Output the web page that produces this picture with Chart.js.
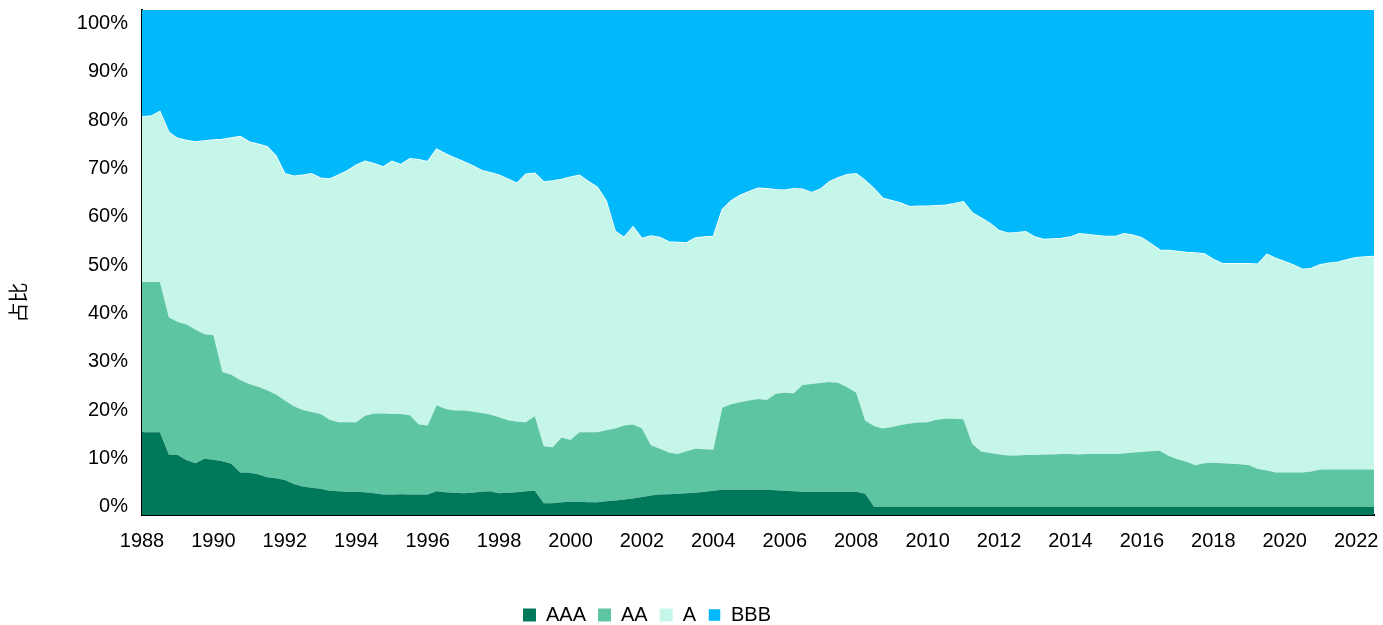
<!DOCTYPE html>
<html lang="zh">
<head>
<meta charset="utf-8">
<title>评级占比</title>
<script src="https://cdn.jsdelivr.net/npm/chart.js@4.4.1/dist/chart.umd.min.js"></script>
<style>
  html, body { margin: 0; padding: 0; background: #fff; overflow: hidden; }
  .wrap { width: 1383px; height: 635px; }
</style>
</head>
<body>
<div class="wrap"><canvas id="chart"></canvas></div>
<script>
// 季度时间点：1988 年一季度起
const dates = Array.from({ length: 139 }, (_, i) => 1988 + i / 4);

const yearTicks = [1988, 1990, 1992, 1994, 1996, 1998, 2000, 2002, 2004, 2006,
    2008, 2010, 2012, 2014, 2016, 2018, 2020, 2022];
const pctTicks = [0, 10, 20, 30, 40, 50, 60, 70, 80, 90, 100];

const ratings = ['AAA', 'AA', 'A', 'BBB'];

// 各评级占比（%）
const aaa = [
    15.4, 15.4, 15.4,
    10.8, 10.7, 9.6, 9.0, 9.9, 9.7, 9.4, 8.9,
    7.1, 7.0, 6.7, 6.1, 5.9, 5.5, 4.7, 4.2, 3.9, 3.7,
    3.3, 3.2, 3.1, 3.1, 3.0, 2.8, 2.5, 2.5, 2.6, 2.5,
    2.5, 2.5, 3.2, 3.0, 2.9, 2.8, 2.9, 3.1, 3.2, 2.8,
    2.9, 3.0, 3.2, 3.3, 0.7, 0.7, 0.9, 1.0, 1.0, 0.9,
    0.9, 1.1, 1.3, 1.5, 1.7, 2.0, 2.3, 2.5, 2.6, 2.7,
    2.8, 2.9, 3.1, 3.3, 3.5, 3.5, 3.5, 3.5, 3.5, 3.5,
    3.4, 3.3, 3.2, 3.1, 3.1, 3.1, 3.1, 3.1, 3.1, 3.1,
    2.7,
    0, 0, 0, 0, 0, 0, 0, 0, 0,
    0, 0, 0, 0, 0, 0, 0, 0, 0, 0,
    0, 0, 0, 0, 0, 0, 0, 0, 0, 0,
    0, 0, 0, 0, 0, 0, 0, 0, 0, 0,
    0, 0, 0, 0, 0, 0, 0, 0, 0, 0,
    0, 0, 0, 0, 0, 0, 0, 0
];
const aa = [
    31.1, 31.1, 31.1,
    28.4, 27.5, 28.1, 27.6, 25.8, 25.8, 18.5, 18.4,
    19.1, 18.4, 18.1, 18.0, 17.3, 16.5, 16.1, 15.8, 15.7, 15.5,
    14.7, 14.3, 14.4, 14.4, 15.8, 16.5, 16.8, 16.7, 16.6, 16.4,
    14.5, 14.3, 17.8, 17.2, 17.0, 17.1, 16.8, 16.3, 15.9, 15.7,
    15.0, 14.6, 14.3, 15.4, 11.8, 11.6, 13.4, 12.8, 14.4, 14.5,
    14.5, 14.7, 14.9, 15.3, 15.3, 14.2, 10.4, 9.5, 8.6, 8.2,
    8.7, 9.1, 8.8, 8.5, 17.0, 17.7, 18.1, 18.5, 18.8, 18.6,
    20.0, 20.3, 20.3, 22.1, 22.3, 22.5, 22.7, 22.5, 21.6, 20.5,
    15.1, 16.7, 16.2, 16.5, 16.9, 17.2, 17.4, 17.5, 18.0, 18.2,
    18.2, 18.1, 13.0, 11.4, 11.1, 10.8, 10.6, 10.6, 10.7, 10.7,
    10.8, 10.8, 10.9, 10.9, 10.8, 10.9, 10.9, 10.9, 10.9, 11.0,
    11.2, 11.3, 11.5, 11.6, 10.5, 9.8, 9.3, 8.6, 9.0, 9.1,
    9.0, 8.9, 8.8, 8.6, 7.8, 7.5, 7.1, 7.1, 7.1, 7.1,
    7.3, 7.7, 7.7, 7.7, 7.7, 7.7, 7.7, 7.7
];
const a = [
    34.2, 34.3, 35.3,
    38.3, 38.0, 38.1, 38.9, 40.0, 40.4, 48.1, 49.0,
    50.4, 50.1, 50.2, 50.4, 49.4, 46.9, 47.6, 48.6, 49.3, 48.8,
    49.8, 51.1, 52.0, 53.2, 52.7, 51.7, 51.0, 52.3, 51.6, 53.1,
    54.8, 54.6, 53.0, 52.8, 52.3, 51.5, 50.9, 50.2, 50.0, 50.1,
    49.9, 49.3, 51.3, 50.3, 54.7, 55.1, 53.4, 54.4, 53.2, 51.9,
    50.7, 47.4, 40.8, 38.9, 40.9, 39.3, 43.3, 43.7, 43.6, 43.8,
    43.1, 43.6, 43.9, 44.1, 41.0, 42.1, 42.8, 43.2, 43.6, 43.7,
    42.2, 41.9, 42.3, 40.5, 39.6, 40.1, 41.4, 42.5, 44.0, 45.3,
    49.7, 49.1, 47.6, 46.8, 45.9, 44.9, 44.8, 44.7, 44.3, 44.2,
    44.5, 45.0, 47.8, 48.3, 47.5, 46.3, 46.0, 46.1, 46.2, 45.1,
    44.5, 44.6, 44.6, 44.9, 45.7, 45.4, 45.2, 45.0, 45.0, 45.5,
    45.0, 44.3, 42.9, 41.5, 42.5, 43.0, 43.3, 43.9, 43.3, 42.1,
    41.3, 41.4, 41.5, 41.7, 42.4, 44.7, 44.3, 43.6, 42.9, 42.0,
    42.0, 42.4, 42.7, 42.9, 43.4, 43.8, 44.0, 44.1
];
const bbb = [
    19.3, 19.2, 18.2,
    22.5, 23.8, 24.2, 24.5, 24.3, 24.1, 24.0, 23.7,
    23.4, 24.5, 25.0, 25.5, 27.4, 31.1, 31.6, 31.4, 31.1, 32.0,
    32.2, 31.4, 30.5, 29.3, 28.5, 29.0, 29.7, 28.5, 29.2, 28.0,
    28.2, 28.6, 26.0, 27.0, 27.8, 28.6, 29.4, 30.4, 30.9, 31.4,
    32.2, 33.1, 31.2, 31.0, 32.8, 32.6, 32.3, 31.8, 31.4, 32.7,
    33.9, 36.8, 43.0, 44.3, 42.1, 44.5, 44.0, 44.3, 45.2, 45.3,
    45.4, 44.4, 44.2, 44.1, 38.5, 36.7, 35.6, 34.8, 34.1, 34.2,
    34.4, 34.5, 34.2, 34.3, 35.0, 34.3, 32.8, 31.9, 31.3, 31.1,
    32.5, 34.2, 36.2, 36.7, 37.2, 37.9, 37.8, 37.8, 37.7, 37.6,
    37.3, 36.9, 39.2, 40.3, 41.4, 42.9, 43.4, 43.3, 43.1, 44.2,
    44.7, 44.6, 44.5, 44.2, 43.5, 43.7, 43.9, 44.1, 44.1, 43.5,
    43.8, 44.4, 45.6, 46.9, 47.0, 47.2, 47.4, 47.5, 47.7, 48.8,
    49.7, 49.7, 49.7, 49.7, 49.8, 47.8, 48.6, 49.3, 50.0, 50.9,
    50.7, 49.9, 49.6, 49.4, 48.9, 48.5, 48.3, 48.2
];

const colors = ['#00785A', '#5EC5A3', '#C5F6E9', '#00B8FA'];

// 逐层累加，得到每个评级的上边界
const series = [aaa, aa, a, bbb];
const cumulative = [];
let running = dates.map(() => 0);
series.forEach(s => {
    running = running.map((v, i) => v + s[i]);
    cumulative.push(running);
});
const toPoints = arr => arr.map((v, i) => ({ x: dates[i], y: v }));

const datasets = [
    { data: toPoints(cumulative[0]), fill: 'start' },
    { data: toPoints(cumulative[1]), fill: '-1' },
    { data: toPoints(cumulative[2]), fill: '-1' },
    // BBB 从 A 的上边界一直填到图表顶部
    { data: toPoints(cumulative[2]), fill: 'end', borderColor: '#ffffff', borderWidth: 1.5 }
].map((d, i) => Object.assign({
    label: ratings[i],
    backgroundColor: colors[i],
    borderColor: colors[i],
    borderWidth: 0,
    pointRadius: 0,
    tension: 0
}, d));

// 图例整体往左挪一点
const legendShift = {
    id: 'legendShift',
    afterLayout(chart) {
        chart.legend.left -= 40;
        chart.legend.right -= 40;
    }
};

Chart.defaults.font.family = "'Liberation Sans', Arial, 'Noto Sans CJK SC', sans-serif";
Chart.defaults.font.size = 20;
Chart.defaults.color = '#000';

new Chart(document.getElementById('chart'), {
    type: 'line',
    data: { datasets },
    plugins: [legendShift],
    options: {
        responsive: true,
        maintainAspectRatio: false,
        animation: false,
        layout: { padding: { top: 10, right: 9, left: 0, bottom: 0 } },
        plugins: {
            tooltip: { enabled: false },
            legend: {
                position: 'bottom',
                labels: { boxWidth: 13, boxHeight: 13, padding: 12 }
            }
        },
        scales: {
            x: {
                type: 'linear',
                min: 1988,
                max: 2022.5,
                z: 1,
                grid: { display: false, drawTicks: false },
                border: { display: true, color: '#000', width: 2 },
                ticks: { padding: 14, maxRotation: 0, autoSkip: false, callback: v => String(v) },
                afterBuildTicks: s => { s.ticks = yearTicks.map(v => ({ value: v })); },
                afterFit: s => {
                    s.height = 78;
                    s.paddingLeft = 0;
                    s.paddingRight = 0;
                }
            },
            y: {
                min: -1.72,
                max: 102.8,
                z: 1,
                grid: { display: false, drawTicks: false },
                border: { display: true, color: '#000', width: 2 },
                ticks: { padding: 14, callback: v => v + '%' },
                afterBuildTicks: s => { s.ticks = pctTicks.map(v => ({ value: v })); },
                afterFit: s => {
                    s.width = 142;
                    s.paddingTop = 0;
                    s.paddingBottom = 0;
                },
                // 后面补全角空格，让标题偏下一些
                title: { display: true, text: '占比\u3000\u3000\u3000\u3000', padding: 8 }
            }
        }
    }
});
</script>
</body>
</html>
